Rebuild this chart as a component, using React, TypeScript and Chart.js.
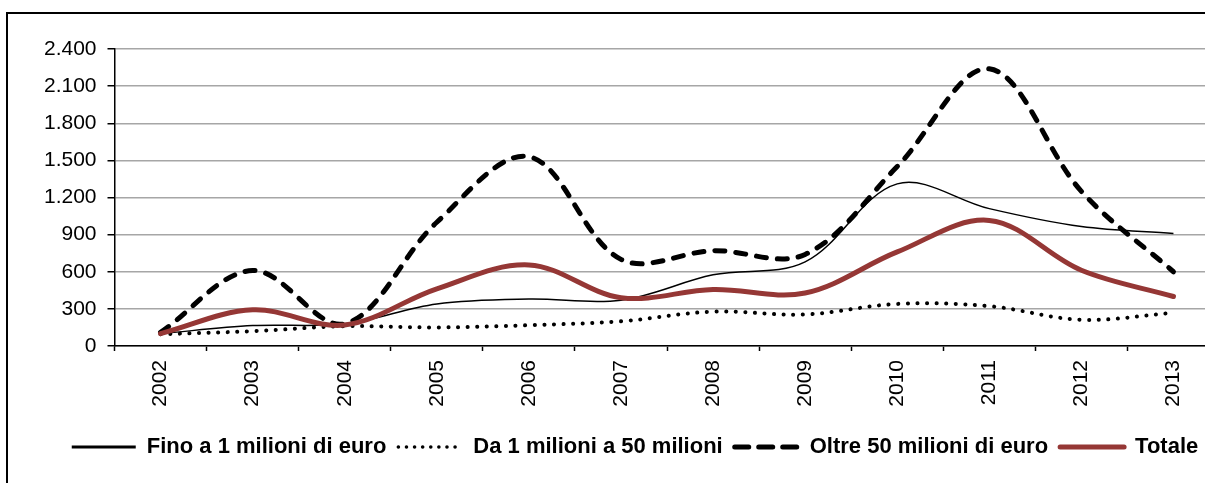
import React, { useEffect, useRef } from 'react';
import { Chart, registerables } from 'chart.js';

Chart.register(...registerables);

const years = ['2002', '2003', '2004', '2005', '2006', '2007', '2008', '2009', '2010', '2011', '2012', '2013'];
const fino = [100, 165, 180, 340, 380, 370, 575, 680, 1310, 1110, 965, 910];
const da = [95, 120, 160, 150, 168, 200, 278, 255, 340, 322, 212, 268];
const oltre = [110, 610, 180, 1000, 1530, 700, 770, 740, 1450, 2240, 1250, 600];
const totale = [100, 292, 170, 462, 655, 390, 457, 428, 760, 1015, 612, 400];
const yTickLabels = ['0', '300', '600', '900', '1.200', '1.500', '1.800', '2.100', '2.400'];
const seriesNames = ['Fino a 1 milioni di euro', 'Da 1 milioni a 50 milioni', 'Oltre 50 milioni di euro', 'Totale'];
const legendLineWidths = [3, 3.5, 5, 5];
const legendDashes = [[], [0.1, 8], [14, 10], []];

const FONT = '"Liberation Sans", Arial, Helvetica, sans-serif';

export default function App() {
  const ref = useRef<HTMLCanvasElement>(null);

  useEffect(() => {
    const canvas = ref.current;
    if (!canvas) return;
    const chart = new Chart(canvas, {
      type: 'line',
      data: {
        labels: years,
        datasets: [
          {
            label: seriesNames[0],
            data: fino,
            borderColor: '#000000',
            backgroundColor: '#000000',
            borderWidth: 1.5,
            pointRadius: 0,
            tension: 0.35,
            order: 3,
          },
          {
            label: seriesNames[1],
            data: da,
            borderColor: '#000000',
            backgroundColor: '#000000',
            borderWidth: 4,
            borderDash: [0.1, 9.5],
            borderCapStyle: 'round',
            pointRadius: 0,
            tension: 0.35,
            order: 2,
          },
          {
            label: seriesNames[2],
            data: oltre,
            borderColor: '#000000',
            backgroundColor: '#000000',
            borderWidth: 5,
            borderDash: [10, 11],
            borderCapStyle: 'round',
            pointRadius: 0,
            tension: 0.35,
            order: 1,
          },
          {
            label: seriesNames[3],
            data: totale,
            borderColor: '#953735',
            backgroundColor: '#953735',
            borderWidth: 5,
            borderCapStyle: 'round',
            pointRadius: 0,
            tension: 0.35,
            order: 0,
          },
        ],
      },
      options: {
        responsive: false,
        animation: false,
        devicePixelRatio: 1,
        layout: { padding: { left: 30, right: 36, top: 35, bottom: 6 } },
        plugins: {
          tooltip: { enabled: false },
          legend: {
            position: 'bottom',
            labels: {
              usePointStyle: true,
              pointStyleWidth: 64,
              padding: 12,
              color: '#000',
              font: { family: FONT, size: 22, weight: 'bold' },
              generateLabels: (ch: any) =>
                ch.data.datasets.map((ds: any, i: number) => ({
                  text: ds.label,
                  fillStyle: 'transparent',
                  strokeStyle: ds.borderColor,
                  lineWidth: legendLineWidths[i],
                  lineDash: legendDashes[i],
                  lineCap: ds.borderCapStyle || 'butt',
                  pointStyle: 'line',
                  hidden: false,
                  datasetIndex: i,
                  fontColor: '#000',
                })),
            },
          },
        },
        scales: {
          x: {
            type: 'category',
            offset: true,
            grid: {
              display: true,
              drawOnChartArea: false,
              offset: true,
              tickLength: 5,
              tickColor: '#000',
              tickWidth: 1.5,
            },
            border: { color: '#000', width: 1.5 },
            ticks: {
              autoSkip: false,
              maxRotation: 90,
              minRotation: 90,
              padding: 9,
              color: '#000',
              font: { family: FONT, size: 21 },
            },
            afterFit: (s: any) => {
              s.height = 78;
            },
          },
          y: {
            min: 0,
            max: 2400,
            ticks: {
              stepSize: 300,
              padding: 11,
              color: '#000',
              font: { family: FONT, size: 21 },
              callback: (_v: any, i: number) => yTickLabels[i],
            },
            grid: {
              color: '#a6a6a6',
              lineWidth: 1.5,
              tickLength: 7,
              tickColor: '#000',
              tickWidth: 1.5,
            },
            border: { color: '#000', width: 1.5 },
            afterFit: (s: any) => {
              s.width = 76.5;
            },
          },
          y2: {
            position: 'right',
            min: 0,
            max: 2400,
            display: true,
            ticks: { display: false },
            grid: { display: false, drawTicks: false },
            border: { display: false },
            afterFit: (s: any) => {
              s.width = 12.5;
            },
          },
        },
      },
    });
    return () => chart.destroy();
  }, []);

  return (
    <div
      style={{
        position: 'absolute',
        left: 0,
        top: 0,
        width: 1205,
        height: 483,
        overflow: 'hidden',
        background: '#fff',
      }}
    >
      <div
        style={{
          position: 'absolute',
          left: 6,
          top: 12,
          width: 1400,
          height: 600,
          borderLeft: '2px solid #000',
          borderTop: '2px solid #000',
        }}
      />
      <canvas
        ref={ref}
        width={1260}
        height={460}
        style={{ position: 'absolute', left: 8, top: 14, width: 1260, height: 460 }}
      />
    </div>
  );
}
